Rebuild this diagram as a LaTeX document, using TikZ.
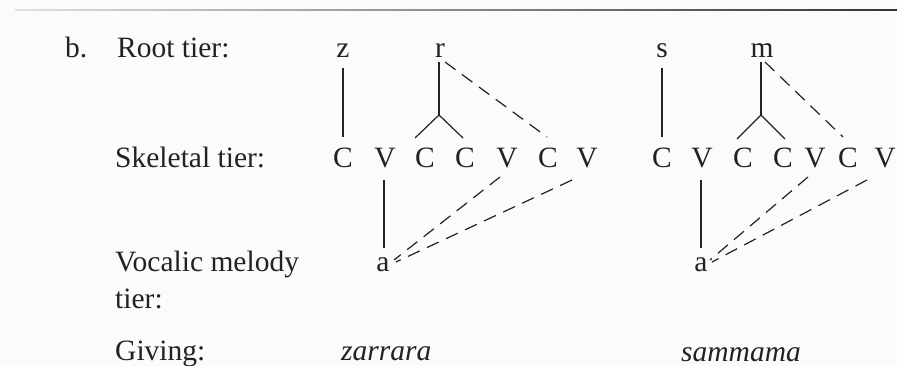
\documentclass[tikz,border=0pt]{standalone}
\usepackage{fontspec}
\setmainfont{Liberation Serif}
\usetikzlibrary{calc}
\definecolor{ink}{HTML}{222222}
\definecolor{paper}{HTML}{FBFBFB}
\begin{document}
\begin{tikzpicture}[x=1pt,y=-1pt,
  every node/.style={inner sep=0pt, text=ink, font=\fontsize{29.5}{35}\selectfont},
  seg/.style={anchor=base},
  lab/.style={anchor=base west},
  ln/.style={draw=ink, line width=1.2pt},
  dln/.style={draw=ink, line width=1.2pt, dash pattern=on 13pt off 8pt},
]
\fill[paper] (0,0) rectangle (897,366);
\useasboundingbox (0,0) rectangle (897,366);
\shade[left color=black!12, right color=black!80] (15,9.4) rectangle (897,10.8);

% labels
\node[lab] (lb) at (65,58) {b.};
\node[lab] (lroot) at (117,58) {Root tier:};
\node[lab] (lskel) at (115,168) {Skeletal tier:};
\node[lab] (lvoc) at (115,272) {Vocalic melody};
\node[lab] (ltier) at (115,308) {tier:};
\node[lab] (lgiv) at (115,360) {Giving:};

% left word
\node[seg] (z) at (343,58) {z};
\node[seg] (r) at (440,58) {r};
\node[seg] (LC1) at (343,168) {C};
\node[seg] (LV2) at (385,168) {V};
\node[seg] (LC3) at (425,168) {C};
\node[seg] (LC4) at (465,168) {C};
\node[seg] (LV5) at (507,168) {V};
\node[seg] (LC6) at (548,168) {C};
\node[seg] (LV7) at (587,168) {V};
\node[seg] (La) at (383,272) {a};
\node[lab] (Lg) at (341,360) {\itshape zarrara};

% right word
\node[seg] (s) at (662,58) {s};
\node[seg] (m) at (762,58) {m};
\node[seg] (RC1) at (662,168) {C};
\node[seg] (RV2) at (702,168) {V};
\node[seg] (RC3) at (743,168) {C};
\node[seg] (RC4) at (783,168) {C};
\node[seg] (RV5) at (815,168) {V};
\node[seg] (RC6) at (848,168) {C};
\node[seg] (RV7) at (885,168) {V};
\node[seg] (Ra) at (701,272) {a};
\node[lab] (Rg) at (681,361) {\itshape sammama};

% left connectors
\draw[ln] ($(z.base)+(0,10)$) -- ($(LC1.base)+(0,-31)$);
\coordinate (Lbr) at ($(r.base)+(-1,57)$);
\draw[ln] ($(r.base)+(-1,4)$) -- (Lbr);
\draw[ln] (Lbr) -- ($(LC3.base)+(-10,-30)$);
\draw[ln] (Lbr) -- ($(LC4.base)+(-2,-30)$);
\draw[dln] ($(r.base)+(5,4)$) -- ($(LC6.base)+(-1,-31)$);
\draw[ln] ($(LV2.base)+(-1,12)$) -- ($(La.base)+(1,-24)$);
\draw[dln] ($(LV5.base)+(-7,9)$) -- ($(La.base)+(11,-12)$);
\draw[dln] ($(LV7.base)+(-15,12)$) -- ($(La.base)+(13,-10)$);

% right connectors
\draw[ln] ($(s.base)+(0,10)$) -- ($(RC1.base)+(0,-31)$);
\coordinate (Rbr) at ($(m.base)+(-1,57)$);
\draw[ln] ($(m.base)+(-1,4)$) -- (Rbr);
\draw[ln] (Rbr) -- ($(RC3.base)+(-6,-29)$);
\draw[ln] (Rbr) -- ($(RC4.base)+(2,-29)$);
\draw[dln] ($(m.base)+(3,4)$) -- ($(RC6.base)+(-5,-31)$);
\draw[ln] ($(RV2.base)+(-1,12)$) -- ($(Ra.base)+(0,-24)$);
\draw[dln] ($(RV5.base)+(-7,9)$) -- ($(Ra.base)+(9,-12)$);
\draw[dln] ($(RV7.base)+(-18,12)$) -- ($(Ra.base)+(11,-10)$);
\end{tikzpicture}
\end{document}
